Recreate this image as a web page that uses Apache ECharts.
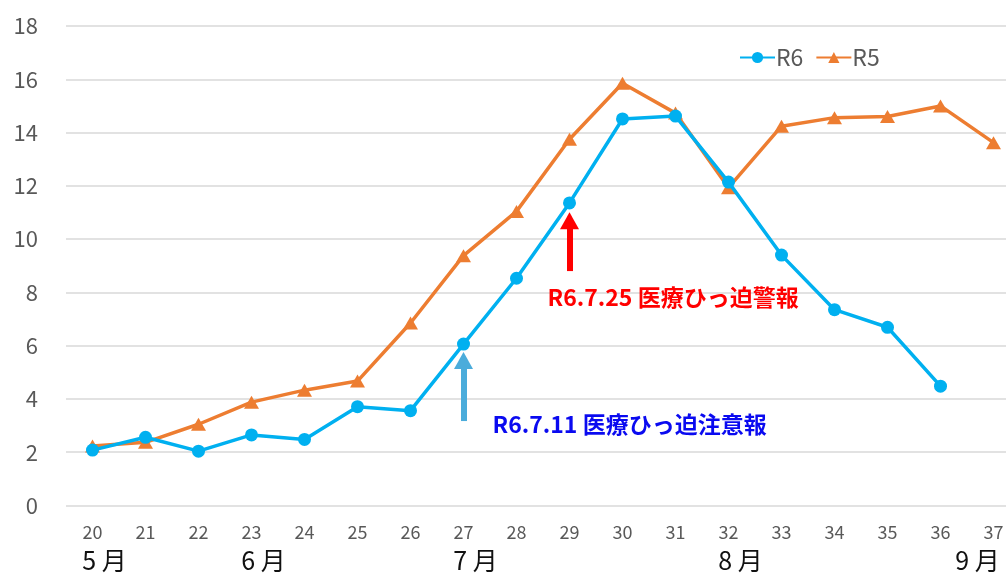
<!DOCTYPE html>
<html>
<head>
<meta charset="utf-8">
<script src="https://cdn.jsdelivr.net/npm/echarts@6/dist/echarts.min.js"></script>
<style>
  html, body { margin: 0; padding: 0; background: #fff; overflow: hidden; }
  /* 右端のカテゴリ帯は画面外へはみ出す */
  #main { width: 1020px; height: 576px; }
</style>
</head>
<body>
<div id="main"></div>
<script>
// 週番号
var weeks = ['20', '21', '22', '23', '24', '25', '26', '27', '28', '29', '30', '31', '32', '33', '34', '35', '36', '37'];
// R6 (37週はまだなし)
var r6 = [2.08, 2.56, 2.04, 2.65, 2.48, 3.71, 3.56, 6.06, 8.53, 11.36, 14.51, 14.62, 12.14, 9.40, 7.35, 6.69, 4.48, null];
// R5
var r5 = [2.23, 2.37, 3.05, 3.88, 4.33, 4.67, 6.85, 9.38, 11.04, 13.75, 15.85, 14.73, 11.93, 14.24, 14.56, 14.60, 15.00, 13.62];
// 月ラベル
var monthWeeks = ['20', '23', '27', '32', '36'];
var monthNames = ['5 月', '6 月', '7 月', '8 月', '9 月'];
var yTicks = [0, 18, 2]; // min, max, interval

var jp = '"Noto Sans CJK JP", "Noto Sans", sans-serif';

var chart = echarts.init(document.getElementById('main'));

var option = {
  animation: false,
  textStyle: { fontFamily: jp },
  legend: {
    left: 734,
    top: 41,
    itemWidth: 35,
    itemHeight: 14,
    itemGap: 12,
    textStyle: { color: '#595959', fontSize: 23, fontFamily: jp, padding: [0, 0, 0, -4] },
    data: ['R6', 'R5']
  },
  grid: { left: 66, right: 0, top: 26, bottom: 70.5, containLabel: false },
  xAxis: [
    {
      type: 'category',
      data: weeks,
      axisLine: { show: false },
      axisTick: { show: false },
      axisLabel: { interval: 0, color: '#595959', fontSize: 18, margin: 18, fontFamily: jp }
    },
    {
      type: 'category',
      data: weeks,
      position: 'bottom',
      offset: 30,
      axisLine: { show: false },
      axisTick: { show: false },
      splitLine: { show: false },
      axisLabel: {
        interval: 0,
        margin: 12,
        formatter: function (v) {
          var i = monthWeeks.indexOf(v);
          if (i < 0) return '';
          return v === '36' ? '{b|' + monthNames[i] + '}' : '{a|' + monthNames[i] + '}';
        },
        rich: {
          a: { color: '#111', fontSize: 25, fontFamily: jp, padding: [0, 0, 0, 24] },
          b: { color: '#111', fontSize: 25, fontFamily: jp, padding: [0, 0, 0, 74] }
        }
      }
    }
  ],
  yAxis: {
    type: 'value',
    min: yTicks[0],
    max: yTicks[1],
    interval: yTicks[2],
    axisLine: { show: false },
    axisTick: { show: false },
    axisLabel: { color: '#595959', fontSize: 22, margin: 28, fontFamily: jp },
    splitLine: { lineStyle: { color: '#D9D9D9', width: 1.5 } }
  },
  series: [
    {
      name: 'R6',
      type: 'line',
      data: r6,
      symbol: 'circle',
      symbolSize: 13,
      showAllSymbol: true,
      color: '#00B0F0',
      lineStyle: { width: 3.5, color: '#00B0F0' },
      itemStyle: { color: '#00B0F0' },
      z: 3,
      markLine: {
        silent: true,
        symbol: ['none', 'triangle'],
        symbolSize: [19, 17],
        label: { show: false },
        data: [
          [
            { coord: ['27', 3.17], lineStyle: { color: '#4BACDB', width: 6, type: 'solid' } },
            { coord: ['27', 5.44] }
          ],
          [
            { coord: ['29', 8.8], lineStyle: { color: '#FF0000', width: 6, type: 'solid' } },
            { coord: ['29', 10.69] }
          ]
        ]
      },
      markPoint: {
        silent: true,
        symbol: 'circle',
        symbolSize: 0,
        data: [
          {
            coord: ['29', 7.82],
            value: 'R6.7.25 医療ひっ迫警報',
            label: {
              show: true, position: 'inside', align: 'left', verticalAlign: 'middle', offset: [-22, 0],
              color: '#FF0000', fontSize: 23, fontWeight: 'bold', fontFamily: jp,
              formatter: '{c}'
            }
          },
          {
            coord: ['27', 3.06],
            value: 'R6.7.11 医療ひっ迫注意報',
            label: {
              show: true, position: 'inside', align: 'left', verticalAlign: 'middle', offset: [29, 0],
              color: '#0A0AF0', fontSize: 23, fontWeight: 'bold', fontFamily: jp,
              formatter: '{c}'
            }
          }
        ]
      }
    },
    {
      name: 'R5',
      type: 'line',
      data: r5,
      symbol: 'triangle',
      symbolSize: [15, 13],
      showAllSymbol: true,
      color: '#ED7D31',
      lineStyle: { width: 3.5, color: '#ED7D31' },
      itemStyle: { color: '#ED7D31' },
      z: 2
    }
  ]
};

chart.setOption(option);
</script>
</body>
</html>
